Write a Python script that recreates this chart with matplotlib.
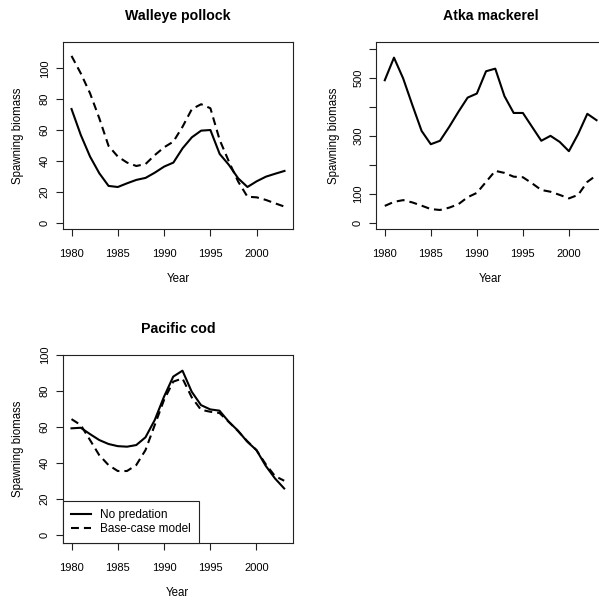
import matplotlib
matplotlib.use("Agg")
import matplotlib.pyplot as plt

plt.rcParams['font.family'] = ['Liberation Sans', 'DejaVu Sans']

years = list(range(1980, 2004))

# spawning biomass, no predation (solid) vs base-case (dashed)
pollock_nopred = [73.6, 56.8, 42.8, 32.0, 23.8, 23.1, 25.5, 27.7, 29.0, 32.4, 36.3, 38.9,
                  48.2, 55.3, 59.6, 60.0, 44.5, 37.4, 28.7, 23.1, 26.8, 29.8, 31.7, 33.5]
pollock_base = [108.0, 96.7, 83.8, 67.6, 49.7, 42.8, 38.9, 36.7, 38.0, 43.8, 48.8, 52.5,
                62.2, 73.6, 76.7, 74.1, 53.6, 39.5, 26.6, 16.8, 16.4, 14.7, 12.5, 10.4]

atka_nopred = [492, 570, 498, 406, 317, 271, 283, 331, 383, 432, 446, 523,
               532, 437, 379, 379, 331, 283, 300, 279, 247, 306, 376, 354]
atka_base = [58, 72, 78, 70, 59, 47, 44, 52, 64, 88, 103, 141,
             179, 172, 159, 157, 136, 113, 107, 96, 84, 96, 141, 164]

cod_nopred = [59.3, 59.6, 56.1, 52.8, 50.6, 49.4, 49.1, 50.0, 54.3, 63.9, 76.8, 88.0,
              91.3, 79.6, 72.2, 69.8, 69.1, 63.0, 58.0, 51.9, 47.2, 38.5, 31.5, 25.9]
cod_base = [64.4, 61.1, 52.8, 44.4, 38.9, 35.6, 35.6, 38.9, 47.2, 61.1, 75.0, 85.2,
            87.0, 76.5, 69.6, 68.5, 67.8, 62.9, 57.8, 52.2, 47.2, 39.4, 32.8, 30.2]

W, H = 599, 602
fig = plt.figure(figsize=(W / 100, H / 100), dpi=100)


def make_axes(left, top, right, bottom):
    return fig.add_axes([left / W, 1 - bottom / H, (right - left) / W, (bottom - top) / H])


def style(ax, title, yticks, ylabels, ylim, width_px, height_px):
    ax.set_xlim(1979.08, 2003.92)
    ax.set_ylim(*ylim)
    ax.set_xticks([1980, 1985, 1990, 1995, 2000])
    ax.set_yticks(yticks)
    ax.set_yticklabels(ylabels, rotation=90, va='center')
    ax.tick_params(axis='both', direction='out', length=5, width=0.8, labelsize=8, color='#222222')
    ax.tick_params(axis='x', pad=9.5)
    ax.tick_params(axis='y', pad=4.5)
    for s in ax.spines.values():
        s.set_linewidth(0.8)
        s.set_color('#222222')
    ax.set_ylabel("Spawning biomass", fontsize=8.3)
    ax.yaxis.set_label_coords(-44.7 / width_px, 0.5)
    ax.set_xlabel("Year", fontsize=8.3)
    ax.xaxis.set_label_coords(0.5, -50.3 / height_px)
    ax.xaxis.label.set_va('center')
    ax.yaxis.label.set_va('center')
    ax.text(0.5, 1 + 26.3 / height_px, title, transform=ax.transAxes, ha='center', va='center',
            fontsize=10.2, fontweight='bold')


dash = (0, (3.8, 2.4))
lw = 1.5

ax1 = make_axes(63, 42, 293, 229)
ax1.plot(years, pollock_nopred, color='black', lw=lw)
ax1.plot(years, pollock_base, color='black', lw=lw, linestyle=dash)
style(ax1, "Walleye pollock", [0, 20, 40, 60, 80, 100], ['0', '20', '40', '60', '80', '100'],
      (-4.1, 117.0), 230, 187)

ax2 = make_axes(376.3, 42, 605, 229)
ax2.plot(years, atka_nopred, color='black', lw=lw)
ax2.plot(years, atka_base, color='black', lw=lw, linestyle=dash)
style(ax2, "Atka mackerel", [0, 100, 200, 300, 400, 500, 600],
      ['0', '100', '', '300', '', '500', ''], (-21.7, 624), 228.7, 187)
ax2.yaxis.set_label_coords(-42.3 / 228.7, 0.5)

ax3 = make_axes(63, 355, 292.7, 542.7)
ax3.plot(years, cod_nopred, color='black', lw=lw, label='No predation')
ax3.plot(years, cod_base, color='black', lw=lw, linestyle=dash, label='Base-case model')
style(ax3, "Pacific cod", [0, 20, 40, 60, 80, 100], ['0', '20', '40', '60', '80', '100'],
      (-4.2, 100.0), 229.7, 187.7)
leg = ax3.legend(loc='lower left', borderaxespad=0, fancybox=False, fontsize=8.5,
                 handlelength=1.7, handletextpad=0.8, borderpad=0.65, labelspacing=0.2,
                 framealpha=1)
leg.get_frame().set_edgecolor('#222222')
leg.get_frame().set_linewidth(0.8)

fig.savefig("out.png", dpi=100)
